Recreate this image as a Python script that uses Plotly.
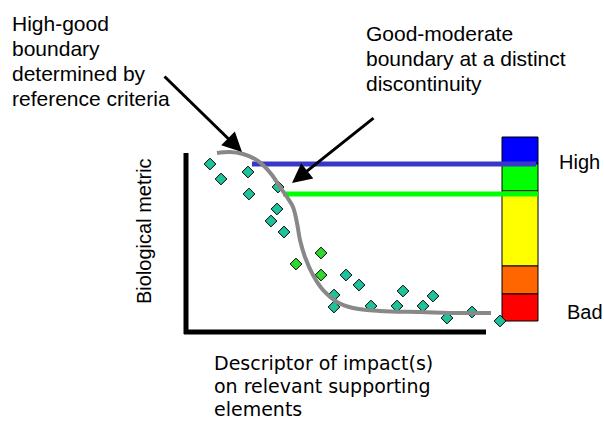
import plotly.graph_objects as go

# ---- data (schematic coordinates) ----
pts_x = [210, 221, 248, 249, 278, 277, 271, 284, 346, 359, 334, 334, 371, 403, 433, 423, 397, 447, 472, 500]
pts_y = [164, 179, 172, 194, 187, 209, 221, 232, 275, 285, 295, 307, 306, 291, 296, 306, 306, 318, 312, 321]
pts2_x = [321, 296, 321]
pts2_y = [253, 264, 275]

curve_x = [217, 230, 243, 255, 263, 272, 280, 287, 293, 297, 300, 305, 313, 323, 337, 353, 380, 420, 460, 491]
curve_y = [153, 152, 154, 159, 165, 175, 187, 197, 207, 223, 240, 257, 275, 290, 302, 308, 311, 312, 313, 313]

high_good_x = [252, 536]
high_good_y = [164, 164]
good_mod_x = [283, 538]
good_mod_y = [194, 194]

axis_v_x = [186, 186]
axis_v_y = [153, 334]
axis_h_x = [184, 486]
axis_h_y = [332, 332]

band_bounds = [137, 164, 191, 266, 294, 321]
band_colors = ["#0000FF", "#00FF00", "#FFFF00", "#FF6600", "#FF0000"]
bar_x0, bar_x1 = 502, 538

fig = go.Figure()

# axes drawn as lines
fig.add_trace(go.Scatter(x=axis_v_x, y=axis_v_y, mode="lines",
                         line=dict(color="black", width=5), hoverinfo="skip"))
fig.add_trace(go.Scatter(x=axis_h_x, y=axis_h_y, mode="lines",
                         line=dict(color="black", width=5), hoverinfo="skip"))

# color bar bands
for i, c in enumerate(band_colors):
    fig.add_shape(type="rect", xref="x", yref="y",
                  x0=bar_x0, x1=bar_x1, y0=band_bounds[i], y1=band_bounds[i + 1],
                  fillcolor=c, line=dict(color="black", width=1), layer="below")

# scatter points
fig.add_trace(go.Scatter(x=pts_x, y=pts_y, mode="markers",
                         marker=dict(symbol="diamond", size=9, color="#1EC39B",
                                     line=dict(color="black", width=1)), hoverinfo="skip"))
fig.add_trace(go.Scatter(x=pts2_x, y=pts2_y, mode="markers",
                         marker=dict(symbol="diamond", size=9, color="#2ED82E",
                                     line=dict(color="black", width=1)), hoverinfo="skip"))

# boundary lines
fig.add_trace(go.Scatter(x=high_good_x, y=high_good_y, mode="lines",
                         line=dict(color="#3838C8", width=5), hoverinfo="skip"))
fig.add_trace(go.Scatter(x=good_mod_x, y=good_mod_y, mode="lines",
                         line=dict(color="#00FF00", width=5), hoverinfo="skip"))

# grey response curve
fig.add_trace(go.Scatter(x=curve_x, y=curve_y, mode="lines",
                         line=dict(color="#888888", width=4, shape="spline", smoothing=1),
                         hoverinfo="skip"))

ann = []
font_a = dict(family="Liberation Sans, Arial, sans-serif", size=21, color="black")
block1 = ["High-good", "boundary", "determined by", "reference criteria"]
for i, t in enumerate(block1):
    ann.append(dict(x=11, y=23 + 25 * i, text=t, xanchor="left", yanchor="middle",
                    showarrow=False, font=font_a, borderpad=0))
block2 = ["Good-moderate", "boundary at a distinct", "discontinuity"]
for i, t in enumerate(block2):
    ann.append(dict(x=365, y=33 + 25 * i, text=t, xanchor="left", yanchor="middle",
                    showarrow=False, font=font_a, borderpad=0))
block3 = ["Descriptor of impact(s)", "on relevant supporting", "elements"]
font_c = dict(family="DejaVu Sans, sans-serif", size=19, color="black")
for i, t in enumerate(block3):
    ann.append(dict(x=213, y=363 + 23 * i, text=t, xanchor="left", yanchor="middle",
                    showarrow=False, font=font_c, borderpad=0))

font_b = dict(family="Liberation Sans, Arial, sans-serif", size=20, color="black")
ann.append(dict(x=144, y=231, text="Biological metric", textangle=-90,
                xanchor="center", yanchor="middle", showarrow=False, font=font_b))
ann.append(dict(x=558, y=162, text="High", xanchor="left", yanchor="middle",
                showarrow=False, font=font_b, borderpad=0))
ann.append(dict(x=566, y=312, text="Bad", xanchor="left", yanchor="middle",
                showarrow=False, font=font_b, borderpad=0))

# arrows
ann.append(dict(x=242, y=152, ax=163, ay=75, axref="x", ayref="y", text="",
                showarrow=True, arrowhead=2, arrowsize=1.3, arrowwidth=3,
                arrowcolor="black", standoff=0))
ann.append(dict(x=292, y=183, ax=375, ay=117, axref="x", ayref="y", text="",
                showarrow=True, arrowhead=2, arrowsize=1.3, arrowwidth=3,
                arrowcolor="black", standoff=0))

fig.update_layout(
    width=604, height=421,
    margin=dict(l=0, r=0, t=0, b=0),
    paper_bgcolor="white", plot_bgcolor="white",
    showlegend=False,
    xaxis=dict(range=[0, 604], visible=False, fixedrange=True),
    yaxis=dict(range=[421, 0], visible=False, fixedrange=True),
    annotations=ann,
)

fig.write_html("out.html", config={"displayModeBar": False},
               post_script="document.body.style.margin='0px';document.body.style.overflow='hidden';")
